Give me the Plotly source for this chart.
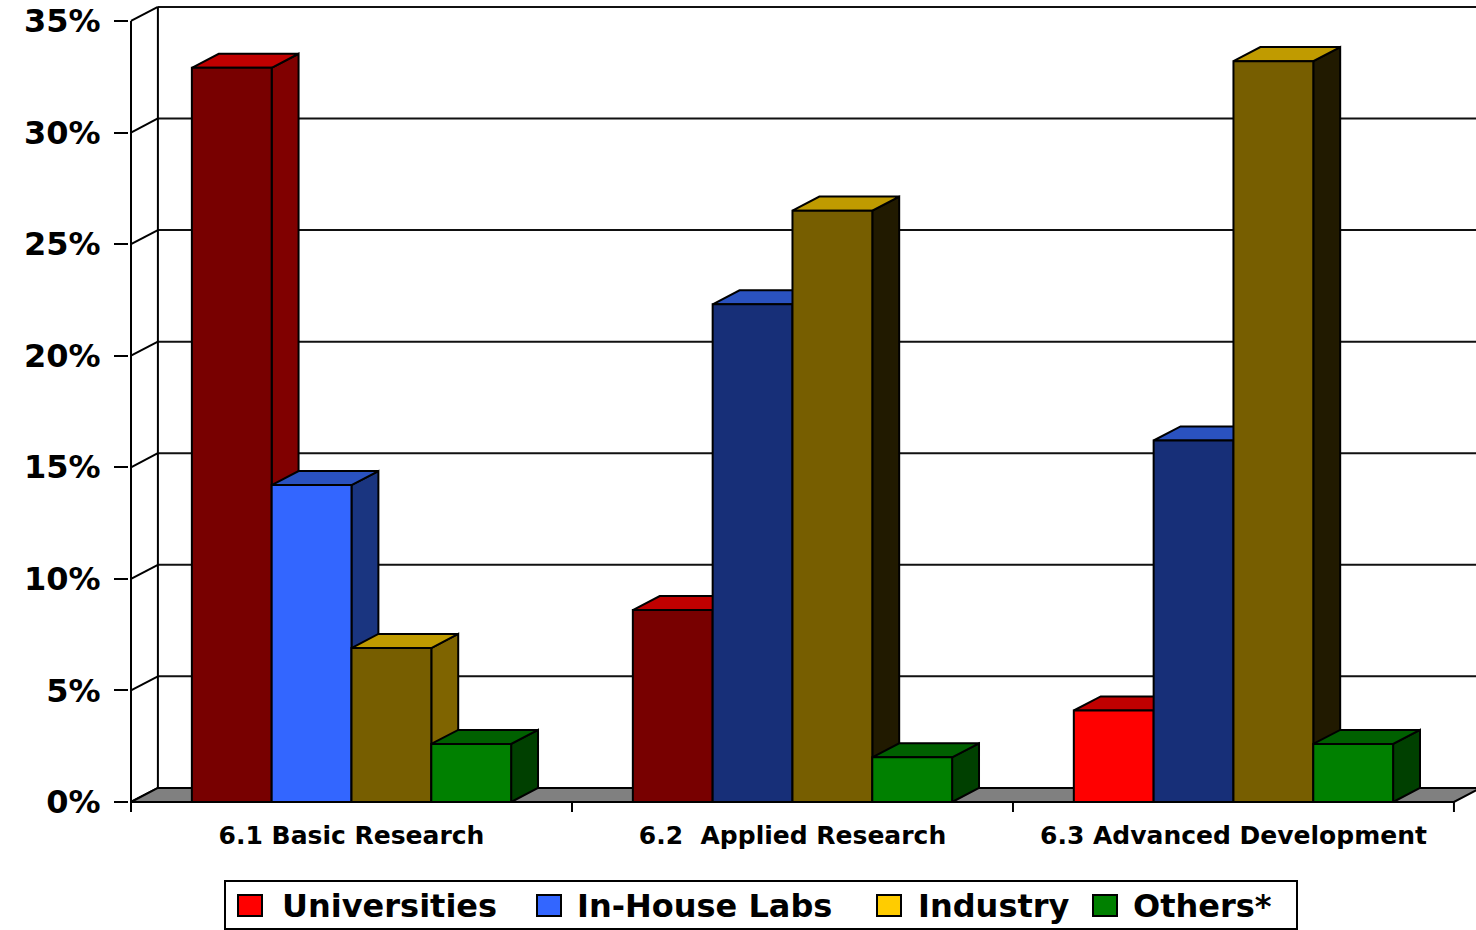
import plotly.graph_objects as go

# ---- data -------------------------------------------------------------
categories = ["6.1 Basic Research", "6.2  Applied Research", "6.3 Advanced Development"]
series_names = ["Universities", "In-House Labs", "Industry", "Others*"]
universities = [32.9, 8.6, 4.1]
in_house_labs = [14.2, 22.3, 16.2]
industry = [6.9, 26.5, 33.2]
others = [2.6, 2.0, 2.6]
y_ticks = [0, 5, 10, 15, 20, 25, 30, 35]
y_tick_labels = ["0%", "5%", "10%", "15%", "20%", "25%", "30%", "35%"]

series_values = [universities, in_house_labs, industry, others]

# ---- styling ----------------------------------------------------------
legend_colors = ["#FF0000", "#3366FF", "#FFCC00", "#008000"]
front_colors = [
    ["#780000", "#780000", "#FF0000"],
    ["#3366FF", "#172F78", "#172F78"],
    ["#775E00", "#775E00", "#775E00"],
    ["#008000", "#008000", "#008000"],
]
top_colors = [
    ["#C00000"] * 3,
    ["#2A52C0"] * 3,
    ["#C09B00"] * 3,
    ["#006000"] * 3,
]
side_colors = [
    ["#800000"] * 3,
    ["#1A3580"] * 3,
    ["#7F6400", "#211A00", "#211A00"],
    ["#004000"] * 3,
]

FONT = "DejaVu Sans"
W, H = 1476, 930
M_L, M_R, M_T, M_B = 129, 0, 4, 118
BAR_W = 0.181          # bar width in category units
DX, DY = 0.061, 0.63   # depth offset (x units, percent units)
X0 = -0.5
X_RANGE = [X0 - 2 / 441, 2.55]
Y_RANGE = [-0.448, 35.76]
EDGE = dict(color="black", width=2)

fig = go.Figure()


def polygon(xs, ys, fill, line=EDGE):
    fig.add_trace(go.Scatter(
        x=xs + [xs[0]], y=ys + [ys[0]], mode="lines", fill="toself",
        fillcolor=fill, line=line, hoverinfo="skip", showlegend=False))


def segment(xs, ys, color="black", width=2):
    fig.add_trace(go.Scatter(
        x=xs, y=ys, mode="lines", line=dict(color=color, width=width),
        hoverinfo="skip", showlegend=False))


x_end = len(categories) - 0.5

# back-wall gridlines and side-wall diagonals
for v in y_ticks:
    segment([X0 + DX, X_RANGE[1] + 0.1], [v + DY, v + DY], color="#111111")
    segment([X0, X0 + DX], [v, v + DY])

# back-wall left edge
segment([X0 + DX, X0 + DX], [DY, y_ticks[-1] + DY])

# floor
polygon([X0, x_end, x_end + DX, X0 + DX], [0, 0, DY, DY], "#808080")

# front-left edge of the walls
segment([X0, X0], [Y_RANGE[0], y_ticks[-1]])

# category boundary ticks below the floor
for b in [X0 + i for i in range(len(categories) + 1)]:
    segment([b, b], [0, Y_RANGE[0]])

# 3-D bars, painted left to right: side, top, front
n = len(series_values)
for g in range(len(categories)):
    for s in range(n):
        v = series_values[s][g]
        left = g - (n / 2) * BAR_W + s * BAR_W
        right = left + BAR_W
        polygon([right, right + DX, right + DX, right],
                [0, DY, v + DY, v], side_colors[s][g])
        polygon([left, right, right + DX, left + DX],
                [v, v, v + DY, v + DY], top_colors[s][g])
        polygon([left, right, right, left], [0, 0, v, v], front_colors[s][g])


# ---- legend box below the chart (pixel layout -> paper coordinates) ---
def px(xp):
    return (xp - M_L) / (W - M_L - M_R)


def py(yp):
    return (H - M_B - yp) / (H - M_T - M_B)


shapes = [dict(type="rect", xref="paper", yref="paper",
               x0=px(225), x1=px(1297), y0=py(929), y1=py(881),
               line=dict(color="black", width=2), fillcolor="white")]
annotations = []
swatch_x = [238, 537, 877, 1093]
text_x = [280, 575, 916, 1131]
for name, col, sx, tx in zip(series_names, legend_colors, swatch_x, text_x):
    shapes.append(dict(type="rect", xref="paper", yref="paper",
                       x0=px(sx), x1=px(sx + 24), y0=py(916), y1=py(895),
                       line=dict(color="black", width=2), fillcolor=col))
    annotations.append(dict(
        text=name, xref="paper", yref="paper", x=px(tx), y=py(906),
        xanchor="left", yanchor="middle", showarrow=False,
        font=dict(family=FONT, size=32, color="black", weight="bold")))

fig.update_layout(
    width=W, height=H,
    margin=dict(l=M_L, r=M_R, t=M_T, b=M_B, autoexpand=False),
    plot_bgcolor="white", paper_bgcolor="white",
    showlegend=False,
    shapes=shapes, annotations=annotations,
    xaxis=dict(
        range=X_RANGE, tickvals=list(range(len(categories))), ticktext=categories,
        ticks="", showgrid=False, zeroline=False, showline=False,
        tickfont=dict(family=FONT, size=25, color="black", weight="bold"),
        ticklabelstandoff=6, fixedrange=True,
    ),
    yaxis=dict(
        range=Y_RANGE, tickvals=y_ticks, ticktext=y_tick_labels,
        ticks="outside", ticklen=14, tickwidth=2, tickcolor="black",
        showgrid=False, zeroline=False, showline=False,
        tickfont=dict(family=FONT, size=32, color="black", weight="bold"),
        ticklabelstandoff=7, fixedrange=True,
    ),
)

fig.write_html("out.html")
